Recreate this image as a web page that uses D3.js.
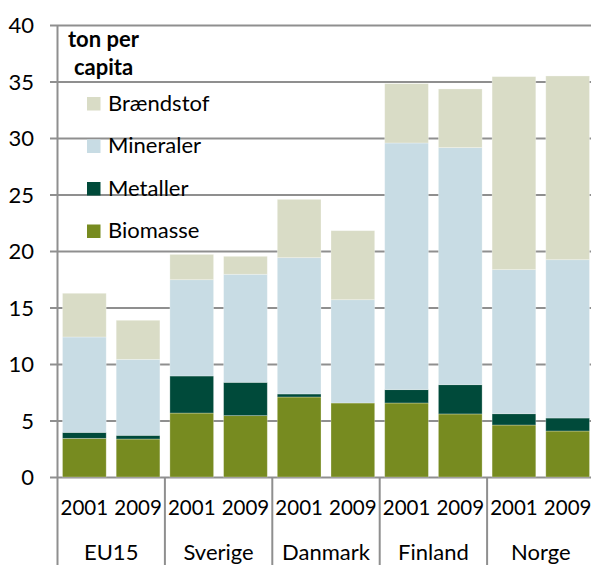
<!DOCTYPE html>
<html>
<head>
<meta charset="utf-8">
<script src="https://cdn.jsdelivr.net/npm/d3@7"></script>
<style>
  html, body { margin: 0; padding: 0; background: #fff; }
  svg { display: block; }
  text { font-family: Lato, "Open Sans", sans-serif; fill: #000; }
</style>
</head>
<body>
<svg id="chart" width="591" height="565"></svg>
<script>
// Regions and years shown on the category axis
const regions = ["EU15", "Sverige", "Danmark", "Finland", "Norge"];
const years = ["2001", "2009"];

// Material extraction, ton per capita, one value per region/year bar
const biomasse   = [3.42, 3.36, 5.66, 5.43, 7.08, 6.55, 6.55, 5.58, 4.60, 4.07];
const metaller   = [0.53, 0.33, 3.28, 2.95, 0.27, 0.00, 1.18, 2.59, 1.00, 1.15];
const mineraler  = [8.44, 6.72, 8.52, 9.56, 12.06, 9.14, 21.83, 20.98, 12.75, 14.01];
const braendstof = [3.87, 3.46, 2.24, 1.59, 5.16, 6.11, 5.25, 5.19, 17.08, 16.26];

const seriesNames = ["Biomasse", "Metaller", "Mineraler", "Brændstof"];
const seriesColors = ["#778b20", "#004a3a", "#c8dce4", "#d9dcc6"];
const yTicks = [0, 5, 10, 15, 20, 25, 30, 35, 40];
const unitLabel = ["ton per", "capita"];

// Table for d3.stack
const rows = [];
regions.forEach((r, gi) => years.forEach((y, yi) => {
  const i = gi * years.length + yi;
  rows.push({
    key: r + "-" + y, region: r, year: y,
    Biomasse: biomasse[i], Metaller: metaller[i],
    Mineraler: mineraler[i], "Brændstof": braendstof[i]
  });
}));

const W = 591, H = 565;
const plotLeft = 57.5, plotTop = 25, plotBottom = 477;
const plotRight = plotLeft + rows.length * 53.7;

const svg = d3.select("#chart");

const x = d3.scaleBand()
  .domain(rows.map(d => d.key))
  .range([plotLeft, plotRight])
  .paddingInner(0.186)
  .paddingOuter(0.093);

const y = d3.scaleLinear().domain([0, 40]).range([plotBottom, plotTop]);

const color = d3.scaleOrdinal().domain(seriesNames).range(seriesColors);

// Y axis: labels on the left, gridlines across the plot with a short outward tick
const yAxis = d3.axisLeft(y)
  .tickValues(yTicks)
  .tickSize(-(W - 50))
  .tickPadding(16)
  .tickFormat(d3.format("d"));

const gy = svg.append("g")
  .attr("transform", "translate(50,0)")
  .call(yAxis);
gy.select(".domain").remove();
gy.selectAll(".tick line").attr("stroke", "#8f8f8f").attr("stroke-width", 2);
gy.selectAll(".tick text")
  .attr("font-size", 22)
  .attr("font-family", "Lato, sans-serif")
  .attr("fill", "#000")
  .attr("dy", "0.36em");

// Stacked bars
const stack = d3.stack().keys(seriesNames);
const layers = stack(rows);

svg.append("g")
  .selectAll("g")
  .data(layers)
  .join("g")
  .attr("fill", d => color(d.key))
  .selectAll("rect")
  .data(d => d)
  .join("rect")
  .attr("x", d => x(d.data.key))
  .attr("width", x.bandwidth())
  .attr("y", d => y(d[1]))
  .attr("height", d => Math.max(0, y(d[0]) - y(d[1])))
  .attr("stroke", "rgba(255,255,255,0.35)")
  .attr("stroke-width", 0.8);

// Vertical axis line and group separators on the category axis
svg.append("line")
  .attr("x1", plotLeft).attr("x2", plotLeft)
  .attr("y1", plotTop).attr("y2", H)
  .attr("stroke", "#8f8f8f").attr("stroke-width", 2);

const groupEdges = regions.map((r, gi) => x(rows[gi * years.length].key) - x.step() * x.paddingOuter());
groupEdges.push(plotRight);
svg.append("g")
  .selectAll("line")
  .data(groupEdges.slice(1))
  .join("line")
  .attr("x1", d => d).attr("x2", d => d)
  .attr("y1", plotBottom).attr("y2", H)
  .attr("stroke", "#8f8f8f").attr("stroke-width", 2);

// Year labels
svg.append("g")
  .selectAll("text")
  .data(rows)
  .join("text")
  .attr("x", d => x(d.key) + x.bandwidth() / 2)
  .attr("y", 515)
  .attr("text-anchor", "middle")
  .attr("font-size", 20.5)
  .text(d => d.year);

// Region labels
svg.append("g")
  .selectAll("text")
  .data(regions)
  .join("text")
  .attr("x", (d, i) => (groupEdges[i] + groupEdges[i + 1]) / 2)
  .attr("y", 560)
  .attr("text-anchor", "middle")
  .attr("font-size", 22)
  .text(d => d);

// Unit label
svg.append("text")
  .attr("x", 68).attr("y", 47)
  .attr("font-size", 22).attr("font-weight", "bold")
  .text(unitLabel[0]);
svg.append("text")
  .attr("x", 74).attr("y", 75)
  .attr("font-size", 22).attr("font-weight", "bold")
  .text(unitLabel[1]);

// Legend, top entry is the top of the stack
const legendOrder = seriesNames.slice().reverse();
const legend = svg.append("g")
  .selectAll("g")
  .data(legendOrder)
  .join("g")
  .attr("transform", (d, i) => `translate(87,${97 + i * 42.5})`);
legend.append("rect")
  .attr("width", 13.5).attr("height", 13.5)
  .attr("fill", d => color(d));
legend.append("text")
  .attr("x", 21).attr("y", 13.5)
  .attr("font-size", 22)
  .text(d => d);
</script>
</body>
</html>
